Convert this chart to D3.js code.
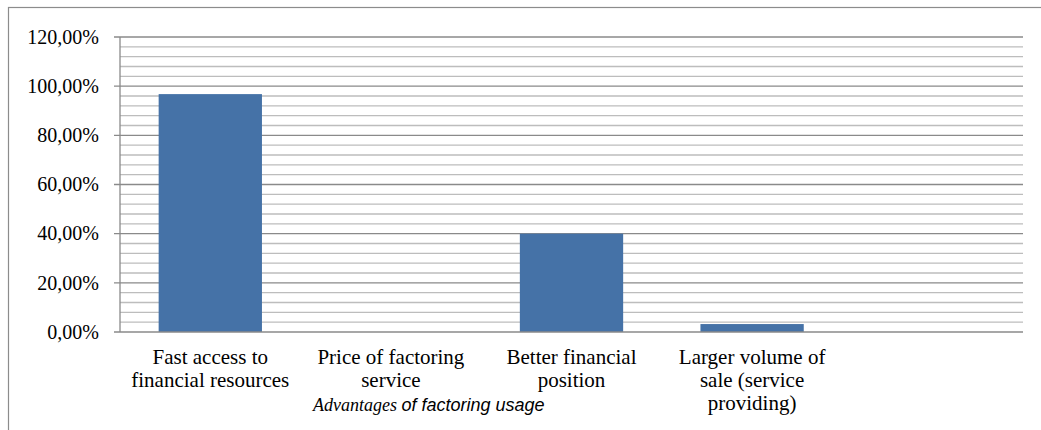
<!DOCTYPE html>
<html>
<head>
<meta charset="utf-8">
<script src="https://cdn.jsdelivr.net/npm/d3@7"></script>
<style>
  body { margin: 0; background: #fff; }
  svg { display: block; }
  .tick-lbl { font-family: "Liberation Serif", "Times New Roman", serif; font-size: 20px; fill: #000; }
  .cat-lbl { font-family: "Liberation Serif", "Times New Roman", serif; font-size: 21px; fill: #000; }
</style>
</head>
<body>
<svg id="chart" width="1041" height="430"></svg>
<script>
// values
const categories = [
  ['Fast access to', 'financial resources'],
  ['Price of factoring', 'service'],
  ['Better financial', 'position'],
  ['Larger volume of', 'sale (service', 'providing)'],
  ['']
];
const values = [96.77, 0, 40.0, 3.23, 0];
const majorTicks = [0, 20, 40, 60, 80, 100, 120];
const minorStep = 4;

const W = 1041, H = 430;
const m = { left: 120, right: 18, top: 37, bottom: 98 };
const svg = d3.select('#chart');

// outer frame
svg.append('rect').attr('x', 8.5).attr('y', 7.5).attr('width', W + 10).attr('height', H + 10)
  .attr('fill', 'none').attr('stroke', '#8c8c8c').attr('stroke-width', 1.2);

const x = d3.scaleBand().domain(d3.range(categories.length)).range([m.left, W - m.right]).padding(0);
const y = d3.scaleLinear().domain([0, 120]).range([H - m.bottom, m.top]);

// minor gridlines
const minor = d3.range(0, 120 + 0.001, minorStep).filter((v) => v % 20 !== 0);
svg.append('g').selectAll('line').data(minor).join('line')
  .attr('x1', m.left).attr('x2', W - m.right)
  .attr('y1', (d) => y(d)).attr('y2', (d) => y(d))
  .attr('stroke', '#bdbdbd').attr('stroke-width', 1.3);

// major gridlines with ticks
svg.append('g').selectAll('line').data(majorTicks.filter((v) => v > 0)).join('line')
  .attr('x1', m.left - 6).attr('x2', W - m.right)
  .attr('y1', (d) => y(d)).attr('y2', (d) => y(d))
  .attr('stroke', '#8a8a8a').attr('stroke-width', 1.3);

// bars
const bw = x.bandwidth() * 0.572;
svg.append('g').selectAll('rect').data(values).join('rect')
  .attr('x', (d, i) => x(i) + (x.bandwidth() - bw) / 2)
  .attr('width', bw)
  .attr('y', (d) => y(d))
  .attr('height', (d) => y(0) - y(d))
  .attr('fill', '#4572a7');

// axes lines
svg.append('line').attr('x1', m.left).attr('x2', m.left).attr('y1', m.top).attr('y2', y(0))
  .attr('stroke', '#8a8a8a').attr('stroke-width', 1.3);
svg.append('line').attr('x1', m.left - 6).attr('x2', W - m.right).attr('y1', y(0)).attr('y2', y(0))
  .attr('stroke', '#8a8a8a').attr('stroke-width', 1.5);

// y tick labels
const fmt = (v) => v.toFixed(2).replace('.', ',') + '%';
svg.append('g').selectAll('text').data(majorTicks).join('text')
  .attr('class', 'tick-lbl')
  .attr('x', m.left - 21).attr('y', (d) => y(d))
  .attr('dy', '0.34em').attr('text-anchor', 'end')
  .text(fmt);

// category labels
const cat = svg.append('g').selectAll('text').data(categories).join('text')
  .attr('class', 'cat-lbl').attr('text-anchor', 'middle')
  .attr('x', (d, i) => x(i) + x.bandwidth() / 2).attr('y', y(0) + 32);
cat.selectAll('tspan').data((d) => d).join('tspan')
  .attr('x', function () { return d3.select(this.parentNode).attr('x'); })
  .attr('dy', (d, i) => (i === 0 ? 0 : 23))
  .text((d) => d);

// axis title
const title = svg.append('text').attr('x', 313).attr('y', 411).attr('font-size', 18).attr('font-style', 'italic');
title.append('tspan').attr('font-family', '"Liberation Serif", "Times New Roman", serif').text('Advantages ');
title.append('tspan').attr('font-family', '"Liberation Sans", Arial, sans-serif').text('of factoring usage');
</script>
</body>
</html>
